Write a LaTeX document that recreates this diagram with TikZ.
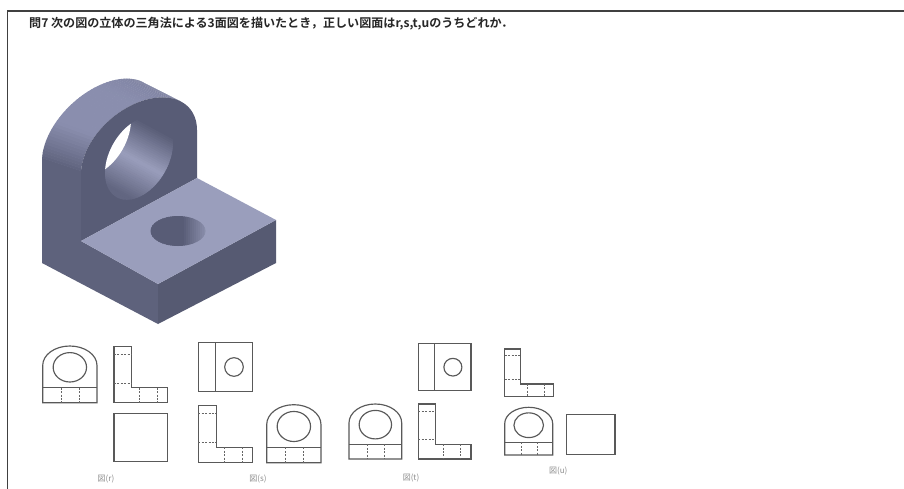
\documentclass[tikz,border=0pt]{standalone}
\usepackage{fontspec}
\newfontfamily\cjk{Noto Sans CJK JP}
\newfontfamily\cjkb{Noto Sans CJK JP Bold}
\tikzset{
  x=1pt,y=-1pt,
  frameline/.style={draw=black!75,line width=1.1pt},
  viewline/.style={draw=black!65,line width=1.15pt,line join=miter},
  hidden/.style={draw=black!60,line width=0.85pt,dash pattern=on 2pt off 1.4pt},
  figlabel/.style={font=\cjk\fontsize{8}{9}\selectfont,text=black!45,inner sep=0pt},
  title/.style={font=\cjkb\fontsize{12.07}{14}\selectfont,text=black!85,inner sep=0pt,anchor=west},
}
\definecolor{frontc}{HTML}{585C76}
\definecolor{sidec}{HTML}{565A72}
\definecolor{topc}{HTML}{9A9EBC}
\definecolor{bandl}{HTML}{8A8EAE}
\definecolor{bandd}{HTML}{5E627C}
\newcommand{\frontv}[4]{\begin{scope}[shift={(#1,#2)},xscale=#3/54.3,yscale=#4/56.7]
  \draw[viewline] (0,56.7) -- (0,19.5) .. controls (0,8.7) and (12.1,0) .. (27.15,0) .. controls (42.2,0) and (54.3,8.7) .. (54.3,19.5) -- (54.3,56.7) -- cycle;
  \draw[viewline] (0,41.7) -- (54.3,41.7);
  \draw[viewline] (27.15,21.3) ellipse [x radius=16.7,y radius=14.7];
  \draw[hidden] (19,41.7) -- (19,56.7);
  \draw[hidden] (36.6,41.7) -- (36.6,56.7);
\end{scope}}
\newcommand{\sidev}[4]{\begin{scope}[shift={(#1,#2)},xscale=#3/53.7,yscale=#4/56]
  \draw[viewline] (0,0) -- (17.7,0) -- (17.7,41) -- (53.7,41) -- (53.7,56) -- (0,56) -- cycle;
  \draw[hidden] (0,8) -- (17.7,8);
  \draw[hidden] (0,36.3) -- (17.7,36.3);
  \draw[hidden] (25.3,41) -- (25.3,56);
  \draw[hidden] (43.3,41) -- (43.3,56);
\end{scope}}
\newcommand{\planv}[4]{\begin{scope}[shift={(#1,#2)},xscale=#3/54.4,yscale=#4/49]
  \draw[viewline] (0,0) rectangle (54.4,49);
  \draw[viewline] (17,0) -- (17,49);
  \draw[viewline] (35.7,24.7) ellipse [x radius=9.3,y radius=9.3];
\end{scope}}
\begin{document}
\begin{tikzpicture}
\useasboundingbox (0,0) rectangle (904,489);
\fill[white] (0,0) rectangle (904,489);
% frame
\draw[frameline] (7.5,489) -- (7.5,11) -- (904,11);
\node[title] (q) at (29,23.5) {問7 次の図の立体の三角法による3面図を描いたとき，正しい図面はr,s,t,uのうちどれか．};
% --- solid ---
% cylinder band as stripes
\foreach \t in {180,177,...,48}{
  \pgfmathsetmacro\m{\t>140 ? 100*(180-\t)/40 : (\t>95 ? 100 : 75+25*(\t-50)/45)}
  \pgfmathsetmacro\tt{\t-3.5}
  \fill[bandl!\m!bandd]
    ({100+58*cos(\t)},{135-26*cos(\t)-50*sin(\t)}) --
    ({139+58*cos(\t)},{152-22*cos(\t)-50*sin(\t)}) --
    ({139+58*cos(\tt)},{152-22*cos(\tt)-50*sin(\tt)}) --
    ({100+58*cos(\tt)},{135-26*cos(\tt)-50*sin(\tt)}) -- cycle;
}
% flat left side, overlapping the first stripe
\fill[bandd] (42,263) -- (158,324) -- (158,284) -- (81,241) -- (81,173) -- (42,160) -- cycle;
% front face of upright
\fill[frontc] (81,241) -- (81,174)
  -- plot[domain=180:0,samples=60] ({139+58*cos(\x)},{152-22*cos(\x)-50*sin(\x)})
  -- (197,178) -- cycle;
% bore
\begin{scope}
  \clip plot[domain=0:360,samples=72] ({139+34*cos(\x)},{158-15*cos(\x)-39*sin(\x)}) -- cycle;
  \foreach \s in {-60,-58,...,60}{
    \pgfmathsetmacro\m{\s<5 ? max(0,100*(\s+32)/37) : max(15,100-100*(\s-5)/42)}
    \pgfmathsetmacro\sa{\s-2.5}
    \fill[topc!\m!frontc]
      ({139-.474*\s-88},{158+.88*\s-47.4}) -- ({139-.474*\s+88},{158+.88*\s+47.4}) --
      ({139-.474*\sa+88},{158+.88*\sa+47.4}) -- ({139-.474*\sa-88},{158+.88*\sa-47.4}) -- cycle;
  }
  \fill[white] plot[domain=0:360,samples=72] ({97+34*cos(\x)},{135-15*cos(\x)-39*sin(\x)}) -- cycle;
\end{scope}
% plate
\fill[sidec] (158,284) -- (276,220) -- (276,263) -- (158,324) -- cycle;
\fill[topc] (81,241) -- (197,178) -- (276,220) -- (158,284) -- cycle;
\begin{scope}
  \clip (178,231) ellipse [x radius=27.5,y radius=15];
  \foreach \s in {150,152,...,206}{
    \pgfmathsetmacro\m{\s<182 ? 0 : 100*(\s-182)/24*0.8}
    \fill[topc!\m!frontc] (\s,214) rectangle (\s+2.5,248);
  }
\end{scope}
% --- views ---
\frontv{42.7}{346}{54.3}{56.7}
\sidev{114}{346.7}{53.7}{56}
\draw[viewline] (114,413.7) rectangle (167.7,461.3);
\node[figlabel] (lr) at (106,478.7) {図(r)};
\planv{198.3}{342.3}{54.4}{49}
\sidev{198.3}{405.3}{54.4}{57.4}
\frontv{266.7}{404.7}{54.3}{58}
\node[figlabel] (ls) at (258,478.7) {図(s)};
\planv{418.3}{343.7}{52.7}{46.6}
\frontv{349}{404}{52.7}{55}
\sidev{418.3}{404}{52.7}{55}
\node[figlabel] (lt) at (411,478.3) {図(t)};
\sidev{504.7}{349}{49}{47.7}
\frontv{504.7}{407.3}{48}{47.7}
\draw[viewline] (566.7,414.3) rectangle (615,454.7);
\node[figlabel] (lu) at (558.3,470.7) {図(u)};
\end{tikzpicture}
\end{document}
